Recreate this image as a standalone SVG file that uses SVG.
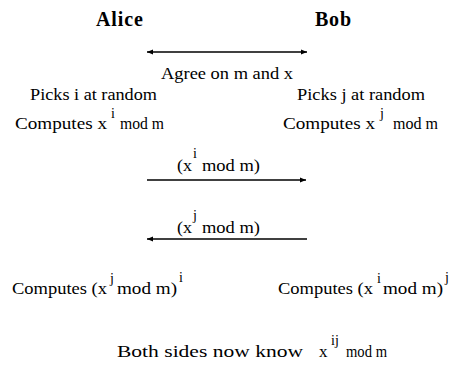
<svg xmlns="http://www.w3.org/2000/svg" width="453" height="379" viewBox="0 0 453 379">
  <style>
    text { font-family: "Liberation Serif", "Times New Roman", serif; fill: #000; }
    .name { font-size: 20px; font-weight: bold; }
    .t { font-size: 17px; }
    .sup { font-size: 14px; }
    .wire { stroke: #000; stroke-width: 1.4; fill: none; }
  </style>
  <defs>
    <marker id="head" viewBox="0 0 10 10" refX="10" refY="5" markerWidth="8" markerHeight="6" markerUnits="userSpaceOnUse" orient="auto-start-reverse">
      <path d="M0,1 L10,5 L0,9 Z" fill="#000"/>
    </marker>
  </defs>

  <rect width="453" height="379" fill="#fff"/>

  <!-- parties -->
  <g id="alice">
    <text class="name" x="96" y="26" textLength="47" lengthAdjust="spacing">Alice</text>
  </g>
  <g id="bob">
    <text class="name" x="315" y="26" textLength="36" lengthAdjust="spacing">Bob</text>
  </g>

  <!-- shared parameters -->
  <g id="agree">
    <text class="t" x="161" y="79" textLength="132" lengthAdjust="spacingAndGlyphs">Agree on m and x</text>
  </g>

  <!-- private exponents -->
  <g id="alice-pick">
    <text class="t" x="30" y="100" textLength="127" lengthAdjust="spacingAndGlyphs">Picks i at random</text>
  </g>
  <g id="bob-pick">
    <text class="t" x="297" y="100" textLength="128" lengthAdjust="spacingAndGlyphs">Picks j at random</text>
  </g>

  <!-- public values -->
  <g id="alice-compute">
    <text class="t" x="15" y="129" textLength="92" lengthAdjust="spacingAndGlyphs">Computes x</text>
    <text class="sup" x="111" y="118">i</text>
    <text class="t" x="120" y="129" textLength="44" lengthAdjust="spacingAndGlyphs">mod m</text>
  </g>
  <g id="bob-compute">
    <text class="t" x="283" y="129" textLength="92" lengthAdjust="spacingAndGlyphs">Computes x</text>
    <text class="sup" x="380" y="118">j</text>
    <text class="t" x="393" y="129" textLength="45" lengthAdjust="spacingAndGlyphs">mod m</text>
  </g>

  <!-- messages -->
  <g id="msg-alice">
    <text class="t" x="177" y="171" textLength="15" lengthAdjust="spacingAndGlyphs">(x</text>
    <text class="sup" x="193" y="158">i</text>
    <text class="t" x="202" y="171" textLength="58" lengthAdjust="spacingAndGlyphs">mod m)</text>
  </g>
  <g id="msg-bob">
    <text class="t" x="177" y="233" textLength="15" lengthAdjust="spacingAndGlyphs">(x</text>
    <text class="sup" x="193" y="220">j</text>
    <text class="t" x="202" y="233" textLength="58" lengthAdjust="spacingAndGlyphs">mod m)</text>
  </g>

  <!-- shared key -->
  <g id="alice-key">
    <text class="t" x="12" y="294" textLength="95" lengthAdjust="spacingAndGlyphs">Computes (x</text>
    <text class="sup" x="110" y="283">j</text>
    <text class="t" x="117" y="294" textLength="60" lengthAdjust="spacingAndGlyphs">mod m)</text>
    <text class="sup" x="179" y="282">i</text>
  </g>
  <g id="bob-key">
    <text class="t" x="278" y="294" textLength="95" lengthAdjust="spacingAndGlyphs">Computes (x</text>
    <text class="sup" x="377" y="283">i</text>
    <text class="t" x="383" y="294" textLength="60" lengthAdjust="spacingAndGlyphs">mod m)</text>
    <text class="sup" x="445" y="282">j</text>
  </g>
  <g id="result">
    <text class="t" x="117" y="357" textLength="186" lengthAdjust="spacingAndGlyphs">Both sides now know</text>
    <text class="t" x="319" y="357">x</text>
    <text class="sup" x="331" y="345">ij</text>
    <text class="t" x="346" y="357" textLength="41" lengthAdjust="spacingAndGlyphs">mod m</text>
  </g>

  <!-- connectors -->
  <g id="connectors">
    <line class="wire" x1="147" y1="52" x2="307" y2="52" marker-start="url(#head)" marker-end="url(#head)"/>
    <line class="wire" x1="147" y1="180" x2="306" y2="180" marker-end="url(#head)"/>
    <line class="wire" x1="307" y1="239" x2="147" y2="239" marker-end="url(#head)"/>
  </g>
</svg>
